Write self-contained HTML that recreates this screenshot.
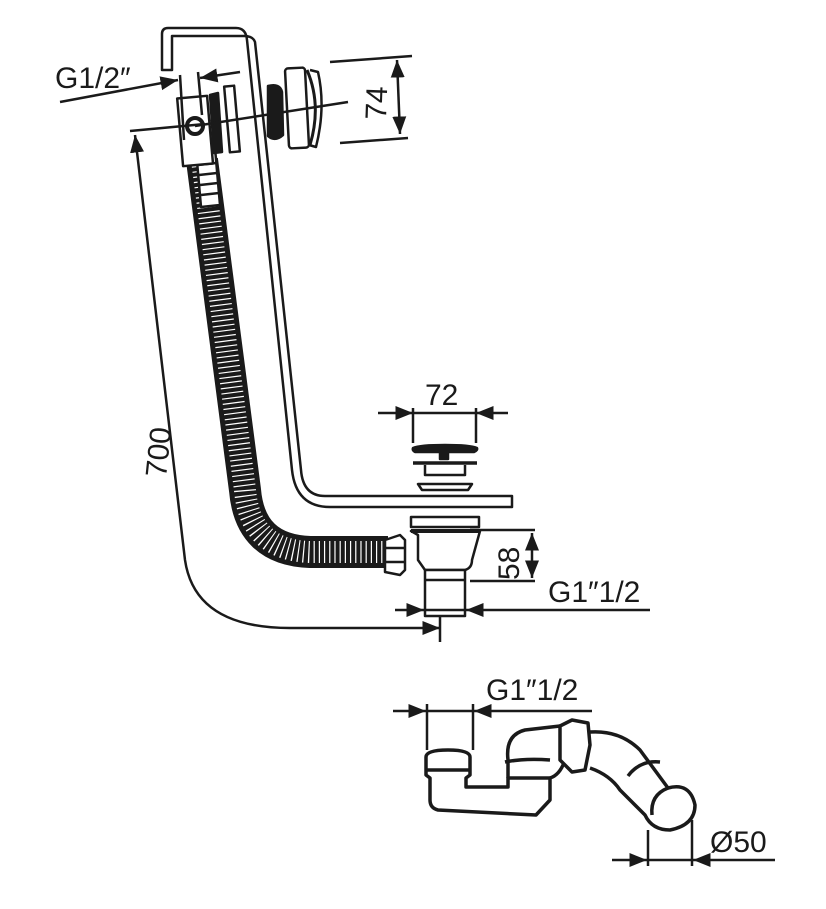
<!DOCTYPE html>
<html><head><meta charset="utf-8"><style>
html,body{margin:0;padding:0;background:#fff}
svg{display:block}
text{font-family:"Liberation Sans",sans-serif;fill:#1a1a1a}
</style></head><body>
<svg width="826" height="909" viewBox="0 0 826 909" xmlns="http://www.w3.org/2000/svg">
<defs>
<marker id="a" viewBox="0 0 10 10" refX="10" refY="5" markerWidth="7" markerHeight="7" orient="auto-start-reverse"><path d="M0,1 L10,5 L0,9 z" fill="#1a1a1a"/></marker>
</defs>
<g fill="none" stroke="#1a1a1a" stroke-width="2.5" stroke-linejoin="round">
<path d="M162,70 L162,34 Q162,28 168,28 L236,28 Q246,28 247,40 L292,470 Q296,507 330,507 L512,507 L512,496 L325,496 Q303,496 301,470 L255,42 Q253,36 244,36 L172,36 L172,70 Z" fill="#fff"/>
<path d="M202,160 L245,490 Q250,550 310,552 L388,552" stroke="#1a1a1a" stroke-width="32" stroke-linecap="butt"/>
<path d="M202,160 L245,490 Q250,550 310,552 L388,552" stroke="#fff" stroke-width="22" stroke-dasharray="1.2 4"/>
<path d="M196,150 L215,148 L220,205 L201,207 Z" fill="#fff"/>
<path d="M198,165 L216,163 M199,175 L217,173 M200,185 L218,183 M201,195 L219,193"/>
<rect x="180" y="97" width="30" height="68" fill="#fff" transform="rotate(-5 195 130)"/>
<circle cx="195" cy="126" r="8" stroke-width="4" fill="#fff"/>
<path d="M210,95 L218,93 L222,152 L214,153 Z" fill="#1a1a1a"/>
<rect x="227" y="86" width="10" height="66" fill="#fff" transform="rotate(-5 232 119)"/>
<path d="M268,86 Q280,83 282,92 L283,135 Q275,142 268,136 Z" fill="#1a1a1a"/>
<rect x="287" y="68" width="20" height="80" rx="3" fill="#fff" transform="rotate(-3 297 108)"/>
<path d="M307,70 Q322,105 310,145" stroke-width="3"/>
<path d="M310,70 L318,72 Q326,107 316,147 L309,145"/>
<line x1="195" y1="126" x2="348" y2="102"/>
<line x1="60" y1="102" x2="178" y2="80" marker-end="url(#a)"/>
<line x1="240" y1="72" x2="200" y2="78" marker-end="url(#a)"/>
<line x1="180" y1="75" x2="184" y2="140"/>
<line x1="198" y1="72" x2="202" y2="115"/>
<line x1="330" y1="62" x2="412" y2="56"/>
<line x1="340" y1="143" x2="408" y2="138"/>
<line x1="397" y1="60" x2="400" y2="134" marker-start="url(#a)" marker-end="url(#a)"/>
<line x1="130" y1="131" x2="205" y2="124"/>
<path d="M135,135 L185,560 Q195,628 290,628 L440,628" marker-start="url(#a)" marker-end="url(#a)"/>
<line x1="440" y1="595" x2="440" y2="642"/>
<line x1="378" y1="413" x2="413" y2="413" marker-end="url(#a)"/>
<line x1="508" y1="413" x2="476" y2="413" marker-end="url(#a)"/>
<line x1="413" y1="413" x2="476" y2="413"/>
<line x1="413" y1="408" x2="413" y2="443"/><line x1="476" y1="408" x2="476" y2="443"/>
<path d="M413,448 Q412,450 415,452 L474,452 Q478,450 477,448 Q470,445 445,445 Q420,445 413,448 Z" fill="#1a1a1a"/>
<rect x="440" y="452" width="8" height="7" fill="#1a1a1a"/>
<line x1="413" y1="463" x2="477" y2="463" stroke-width="3.5"/>
<path d="M425,465 L425,475 L465,475 L465,465"/>
<path d="M418,484 L472,484 L468,490 L422,490 Z"/>
<rect x="411" y="517" width="68" height="10" fill="#fff"/>
<path d="M411,531 L480,531 L472,560 Q472,568 465,570 L425,570 L418,560 L418,535 Z" fill="#fff"/>
<line x1="411" y1="531" x2="480" y2="531" stroke-width="4"/>
<path d="M385,540 L400,535 L405,540 L405,570 L400,575 L385,572 Z" fill="#fff"/>
<path d="M385,548 L405,548 M385,562 L405,562"/>
<rect x="425" y="570" width="40" height="46" fill="#fff"/>
<line x1="425" y1="580" x2="465" y2="580"/>
<line x1="470" y1="530" x2="535" y2="530"/><line x1="470" y1="581" x2="535" y2="581"/>
<line x1="532" y1="533" x2="532" y2="578" marker-start="url(#a)" marker-end="url(#a)"/>
<line x1="395" y1="610" x2="424" y2="610" marker-end="url(#a)"/>
<line x1="650" y1="610" x2="466" y2="610" marker-end="url(#a)"/>
<line x1="425" y1="610" x2="466" y2="610"/>
<line x1="393" y1="711" x2="426" y2="711" marker-end="url(#a)"/>
<line x1="592" y1="711" x2="474" y2="711" marker-end="url(#a)"/>
<line x1="426" y1="711" x2="474" y2="711"/>
<line x1="427" y1="704" x2="427" y2="750"/><line x1="473" y1="704" x2="473" y2="750"/>
<g stroke-width="3.5">
<path d="M426,757 Q426,750 448,750 Q470,750 470,757 L470,775 L466,778 L466,787 L508,787 L508,778 L550,778 L550,800 L536,815 L438,810 Q430,808 430,800 L430,778 L426,775 Z" fill="#fff"/>
<line x1="426" y1="770" x2="470" y2="770"/>
<path d="M508,778 L508,760 Q505,735 525,730 L560,726 L565,760 Q560,775 550,778"/>
<path d="M505,762 Q525,758 550,760"/>
<path d="M560,726 L572,720 L588,723 L590,745 L585,770 L572,772 L560,760 Z" fill="#fff"/>
<path d="M590,732 Q620,730 640,750 L668,788 Q690,782 695,805 Q695,825 670,830 Q652,830 645,815 L620,790 Q610,775 590,768"/>
<path d="M628,776 Q640,760 660,762"/>
<path d="M668,788 Q650,795 652,815"/>
</g>
<line x1="648" y1="830" x2="648" y2="866"/><line x1="692" y1="820" x2="692" y2="866"/>
<line x1="612" y1="860" x2="647" y2="860" marker-end="url(#a)"/>
<line x1="775" y1="860" x2="693" y2="860" marker-end="url(#a)"/>
<line x1="648" y1="860" x2="692" y2="860"/>
</g>
<text x="55" y="88" font-size="30">G1/2″</text>
<text x="0" y="0" font-size="30" transform="translate(386,120) rotate(-88)">74</text>
<text x="0" y="0" font-size="30" transform="translate(166,478) rotate(-84)">700</text>
<text x="425" y="405" font-size="30">72</text>
<text x="0" y="0" font-size="30" transform="translate(519,580) rotate(-90)">58</text>
<text x="548" y="602" font-size="30">G1″1/2</text>
<text x="486" y="700" font-size="30">G1″1/2</text>
<text x="710" y="852" font-size="30">Ø50</text>
</svg>
</body></html>
